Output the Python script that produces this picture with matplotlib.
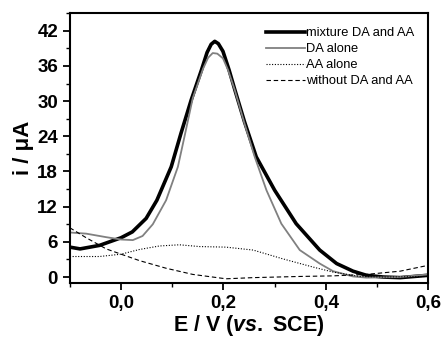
import numpy as np
import matplotlib
matplotlib.use('Agg')
from matplotlib import pyplot as plt
from matplotlib.ticker import MultipleLocator, FuncFormatter

plt.rcParams['font.family'] = ['Liberation Sans', 'DejaVu Sans']
plt.rcParams['mathtext.fontset'] = 'custom'
plt.rcParams['mathtext.it'] = 'Liberation Sans:italic:bold'
plt.rcParams['mathtext.rm'] = 'Liberation Sans:bold'

# values
mix_E = [-0.1, -0.08, -0.042, 0.0, 0.022, 0.049, 0.07, 0.098, 0.117, 0.137, 0.157, 0.168, 0.176,
         0.183, 0.19, 0.199, 0.211, 0.222, 0.241, 0.264, 0.3, 0.342, 0.388, 0.421, 0.453, 0.479,
         0.512, 0.545, 0.6]
mix_i = [5.1, 4.8, 5.4, 6.7, 7.7, 10.0, 13.1, 18.8, 24.5, 30.2, 35.3, 38.3, 39.7,
         40.2, 39.8, 38.5, 35.3, 32.0, 26.5, 20.5, 14.8, 9.1, 4.6, 2.3, 1.0, 0.3,
         0.0, -0.1, 0.3]

da_E = [-0.1, -0.068, -0.029, 0.0, 0.023, 0.042, 0.062, 0.088, 0.111, 0.124, 0.14, 0.16, 0.17,
        0.179, 0.188, 0.199, 0.209, 0.222, 0.241, 0.261, 0.284, 0.313, 0.349, 0.388, 0.414,
        0.453, 0.479, 0.545, 0.6]
da_i = [7.6, 7.4, 6.8, 6.4, 6.3, 7.0, 9.0, 13.1, 18.8, 24.0, 30.5, 35.5, 37.4,
        38.2, 38.1, 37.3, 35.3, 31.9, 26.2, 20.5, 14.8, 9.1, 4.6, 2.3, 1.0,
        0.1, -0.1, 0.0, 0.45]

aa_E = [-0.1, -0.042, 0.0, 0.036, 0.075, 0.114, 0.153, 0.205, 0.258, 0.316, 0.375, 0.414,
        0.466, 0.512, 0.6]
aa_i = [3.5, 3.5, 3.9, 4.7, 5.3, 5.5, 5.2, 5.1, 4.6, 3.1, 1.7, 0.85, 0.1, 0.0, 0.1]

blank_E = [-0.1, -0.068, -0.029, 0.0, 0.036, 0.088, 0.14, 0.205, 0.258, 0.349, 0.414,
           0.479, 0.545, 0.6]
blank_i = [8.4, 6.7, 4.8, 3.9, 2.8, 1.5, 0.45, -0.3, -0.1, 0.1, 0.2, 0.45, 1.0, 2.0]

fig = plt.figure(figsize=(4.42, 3.38), dpi=100)
ax = fig.add_axes([0.158, 0.163, 0.811, 0.798])

ax.plot(mix_E, mix_i, color='black', lw=2.6, label='mixture DA and AA')
ax.plot(da_E, da_i, color='#808080', lw=1.3, label='DA alone')
ax.plot(aa_E, aa_i, color='black', lw=0.8, ls=(0, (1, 1.5)), label='AA alone')
ax.plot(blank_E, blank_i, color='black', lw=0.8, ls=(0, (4, 2.5)), label='without DA and AA')

ax.set_xlim(-0.1, 0.6)
ax.set_ylim(-1.0, 45)
ax.xaxis.set_major_locator(MultipleLocator(0.2))
ax.xaxis.set_minor_locator(MultipleLocator(0.1))
ax.yaxis.set_major_locator(MultipleLocator(6))
ax.yaxis.set_minor_locator(MultipleLocator(3))
ax.xaxis.set_major_formatter(FuncFormatter(lambda v, p: '{:.1f}'.format(v).replace('.', ',')))
ax.yaxis.set_major_formatter(FuncFormatter(lambda v, p: '{:d}'.format(int(round(v)))))

ax.tick_params(which='major', direction='out', length=5, width=1.3, labelsize=13.5)
ax.tick_params(which='minor', direction='out', length=3, width=1.0)
for lab in ax.get_xticklabels() + ax.get_yticklabels():
    lab.set_fontweight('bold')
for s in ax.spines.values():
    s.set_linewidth(1.5)

ax.set_xlabel(r'E / V ($\mathit{vs.}$ SCE)', fontsize=15.5, fontweight='bold', labelpad=1)
ax.set_ylabel('i / μA', fontsize=16, fontweight='bold', labelpad=2)

ax.legend(loc='upper right', frameon=False, fontsize=9.3, handlelength=3.0,
          handletextpad=0.1, labelspacing=0.3, borderaxespad=0.7)

fig.savefig('out.png', dpi=100)
